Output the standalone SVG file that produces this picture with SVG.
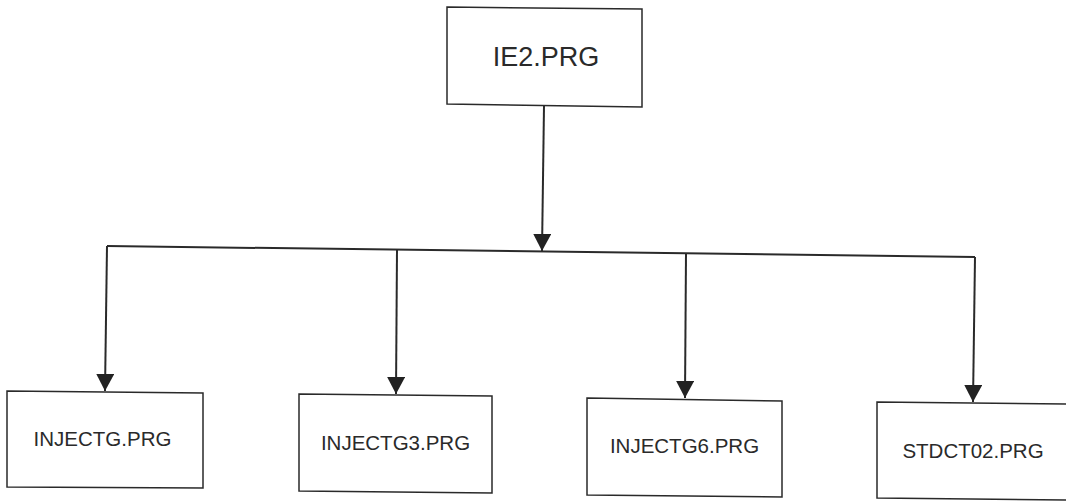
<svg xmlns="http://www.w3.org/2000/svg" width="1066" height="501" viewBox="0 0 1066 501">
<style>
.box{fill:#fff;stroke:#2a2a2a;stroke-width:1.5}
.lbl{font-family:"Liberation Sans",Arial,sans-serif;fill:#2a2a2a;text-anchor:middle}
.wire{fill:none;stroke:#2a2a2a;stroke-width:2}
</style>
<defs>
<marker id="ah" markerUnits="userSpaceOnUse" markerWidth="18" markerHeight="18" viewBox="0 0 18 18" refX="17" refY="9" orient="auto">
<path d="M0,0 L17,9 L0,18 Z" fill="#222"/>
</marker>
</defs>
<rect width="1066" height="501" fill="#fff"/>
<g id="connectors">
<line class="wire" x1="544" y1="106" x2="542" y2="251" marker-end="url(#ah)"/>
<line class="wire" x1="107" y1="246" x2="975" y2="257"/>
<line class="wire" x1="107" y1="246" x2="105" y2="391" marker-end="url(#ah)"/>
<line class="wire" x1="397" y1="250" x2="396" y2="394" marker-end="url(#ah)"/>
<line class="wire" x1="686" y1="253" x2="685" y2="398" marker-end="url(#ah)"/>
<line class="wire" x1="975" y1="257" x2="973" y2="402" marker-end="url(#ah)"/>
</g>
<g id="ie2">
<polygon class="box" points="447,7 642,9 642,107 447,104"/>
<text class="lbl" x="546" y="66" font-size="27">IE2.PRG</text>
</g>
<g id="injectg">
<polygon class="box" points="7,391 203,393 203,488 7,487"/>
<text class="lbl" x="102.5" y="446" font-size="20.5">INJECTG.PRG</text>
</g>
<g id="injectg3">
<polygon class="box" points="299,394 492,396 492,493 299,491"/>
<text class="lbl" x="395.5" y="450" font-size="20.5">INJECTG3.PRG</text>
</g>
<g id="injectg6">
<polygon class="box" points="587,398 782,401 782,497 587,495"/>
<text class="lbl" x="684.5" y="453" font-size="20.5">INJECTG6.PRG</text>
</g>
<g id="stdct02">
<polygon class="box" points="877,402 1070,404 1070,500 877,498"/>
<text class="lbl" x="973" y="458" font-size="20.5">STDCT02.PRG</text>
</g>
</svg>
